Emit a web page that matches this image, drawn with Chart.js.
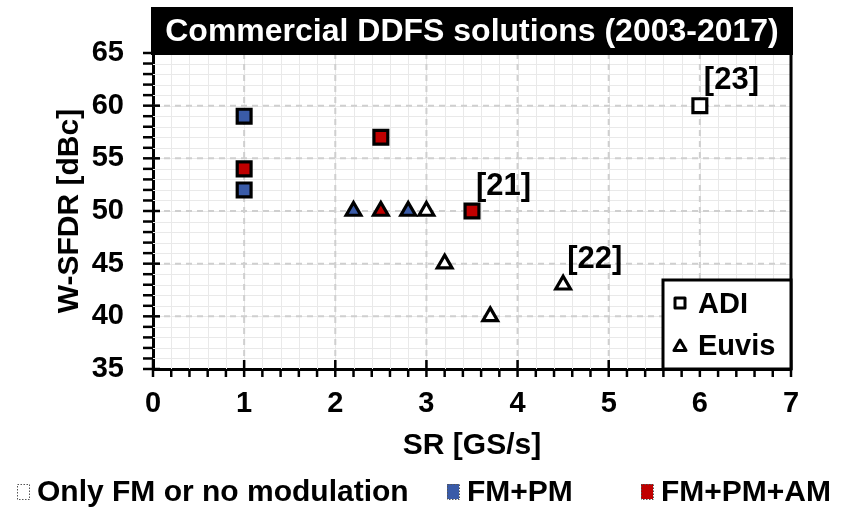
<!DOCTYPE html>
<html>
<head>
<meta charset="utf-8">
<script src="https://cdn.jsdelivr.net/npm/chart.js@4.4.0/dist/chart.umd.min.js"></script>
<style>
  html, body { margin: 0; padding: 0; background: #fff; }
</style>
</head>
<body>
<canvas id="chart" width="846" height="513"></canvas>
<script>
// ADI parts (squares)
const adiSR = [1, 1, 1, 2.5, 3.5, 6];
const adiSFDR = [59, 54, 52, 57, 50, 60];
const adiMod = ['pm', 'am', 'pm', 'am', 'am', 'none'];

// Euvis parts (triangles)
const euvisSR = [2.2, 2.5, 2.8, 3.0, 3.2, 3.7, 4.5];
const euvisSFDR = [50, 50, 50, 50, 45, 40, 43];
const euvisMod = ['pm', 'am', 'pm', 'none', 'none', 'none', 'none'];

// reference tags next to some points
const refTags = ['[21]', '[22]', '[23]'];
const refSR = [3.5, 4.5, 6];
const refSFDR = [50, 43, 60];

// modulation legend
const modKeys = ['none', 'pm', 'am'];
const modNames = ['Only FM or no modulation', 'FM+PM', 'FM+PM+AM'];

const xTicks = [0, 1, 2, 3, 4, 5, 6, 7];
const yTicks = [35, 40, 45, 50, 55, 60, 65];

const FONT = '"Liberation Sans", Arial, sans-serif';
const modColors = { none: '#ffffff', pm: '#3A5BA8', am: '#C00000' };

function drawMarker(ctx, style, x, y, r, fill, lw) {
  ctx.beginPath();
  if (style === 'rect') {
    ctx.rect(x - r, y - r, 2 * r, 2 * r);
  } else {
    ctx.moveTo(x, y - r);
    ctx.lineTo(x + r * 0.866, y + r * 0.5);
    ctx.lineTo(x - r * 0.866, y + r * 0.5);
    ctx.closePath();
  }
  ctx.fillStyle = fill;
  ctx.fill();
  ctx.lineWidth = lw;
  ctx.lineJoin = 'round';
  ctx.strokeStyle = '#000';
  ctx.stroke();
}

const decorations = {
  id: 'decorations',
  beforeDatasetsDraw(chart) {
    const { ctx, chartArea: a, scales: { x, y } } = chart;
    ctx.save();
    // light minor grid
    ctx.strokeStyle = '#e9e9e9';
    ctx.lineWidth = 1;
    for (let i = 1; i < 35; i++) {
      const px = Math.round(x.getPixelForValue(i * 0.2)) + 0.5;
      ctx.beginPath(); ctx.moveTo(px, a.top); ctx.lineTo(px, a.bottom); ctx.stroke();
    }
    for (let v = 36; v < 65; v++) {
      const py = Math.round(y.getPixelForValue(v)) + 0.5;
      ctx.beginPath(); ctx.moveTo(a.left, py); ctx.lineTo(a.right, py); ctx.stroke();
    }
    // dashed major grid
    ctx.strokeStyle = '#cfcfcf';
    ctx.lineWidth = 2;
    ctx.setLineDash([6, 5]);
    xTicks.slice(1, -1).forEach(v => {
      const px = x.getPixelForValue(v);
      ctx.beginPath(); ctx.moveTo(px, a.top); ctx.lineTo(px, a.bottom); ctx.stroke();
    });
    yTicks.slice(1, -1).forEach(v => {
      const py = y.getPixelForValue(v);
      ctx.beginPath(); ctx.moveTo(a.left, py); ctx.lineTo(a.right, py); ctx.stroke();
    });
    ctx.restore();
  },
  afterDraw(chart) {
    const { ctx, chartArea: a, scales: { x, y } } = chart;
    ctx.save();
    ctx.strokeStyle = '#000';
    ctx.lineWidth = 2.5;
    // x ticks
    for (let i = 0; i <= 35; i++) {
      const px = x.getPixelForValue(i * 0.2);
      const major = i % 5 === 0;
      ctx.beginPath();
      ctx.moveTo(px, a.bottom + 8);
      ctx.lineTo(px, major ? a.bottom - 9 : a.bottom);
      ctx.stroke();
    }
    // y ticks
    for (let v = 35; v <= 65; v++) {
      const py = y.getPixelForValue(v);
      const major = v % 5 === 0;
      ctx.beginPath();
      ctx.moveTo(a.left - 10, py);
      ctx.lineTo(major ? a.left + 7 : a.left, py);
      ctx.stroke();
    }
    // right border
    ctx.lineWidth = 3;
    ctx.beginPath(); ctx.moveTo(a.right, a.top); ctx.lineTo(a.right, a.bottom + 1); ctx.stroke();

    // title bar
    ctx.fillStyle = '#000';
    ctx.fillRect(a.left - 2, 7, a.right - a.left + 4, 48);
    ctx.fillStyle = '#fff';
    ctx.font = 'bold 32px ' + FONT;
    ctx.textAlign = 'center';
    ctx.textBaseline = 'middle';
    ctx.fillText('Commercial DDFS solutions (2003-2017)', (a.left + a.right) / 2, 32);

    // reference tags
    ctx.fillStyle = '#000';
    ctx.font = 'bold 31px ' + FONT;
    ctx.textAlign = 'left';
    refTags.forEach((t, i) => {
      ctx.fillText(t, x.getPixelForValue(refSR[i]) + 4, y.getPixelForValue(refSFDR[i]) - 25);
    });

    // vendor legend box
    const bx = 663, by = 280;
    ctx.fillStyle = '#fff';
    ctx.fillRect(bx, by, a.right - bx, a.bottom - by);
    ctx.lineWidth = 3;
    ctx.strokeRect(bx, by, a.right - bx, a.bottom - by);
    drawMarker(ctx, 'rect', 680, 303, 5, '#fff', 3);
    drawMarker(ctx, 'triangle', 680, 347, 7, '#fff', 3);
    ctx.fillStyle = '#000';
    ctx.font = 'bold 29px ' + FONT;
    ctx.fillText('ADI', 698, 305);
    ctx.fillText('Euvis', 698, 347);

    // modulation legend
    const lx = [17, 447, 641];
    ctx.font = 'bold 30px ' + FONT;
    modKeys.forEach((k, i) => {
      ctx.fillStyle = modColors[k];
      ctx.fillRect(lx[i], 484, 12, 15);
      ctx.setLineDash([1.5, 1.5]);
      ctx.lineWidth = 1;
      ctx.strokeStyle = '#555';
      ctx.strokeRect(lx[i] + 0.5, 484.5, 12, 15);
      ctx.setLineDash([]);
      ctx.fillStyle = '#000';
      ctx.fillText(modNames[i], lx[i] + 20, 493);
    });
    ctx.restore();
  }
};

new Chart(document.getElementById('chart'), {
  type: 'scatter',
  data: {
    datasets: [
      {
        label: 'ADI',
        data: adiSR.map((v, i) => ({ x: v, y: adiSFDR[i] })),
        pointStyle: 'rect',
        pointRadius: 9.8,
        pointHoverRadius: 9.8,
        backgroundColor: adiMod.map(m => modColors[m]),
        borderColor: '#000',
        borderWidth: 3.2,
        pointHoverBorderWidth: 3.2
      },
      {
        label: 'Euvis',
        data: euvisSR.map((v, i) => ({ x: v, y: euvisSFDR[i] })),
        pointStyle: 'triangle',
        pointRadius: 8.5,
        pointHoverRadius: 8.5,
        backgroundColor: euvisMod.map(m => modColors[m]),
        borderColor: '#000',
        borderWidth: 3.2,
        pointHoverBorderWidth: 3.2
      }
    ]
  },
  options: {
    responsive: false,
    animation: false,
    events: [],
    layout: { padding: { top: 53, right: 55, bottom: 48, left: 0 } },
    plugins: { legend: { display: false }, tooltip: { enabled: false } },
    scales: {
      x: {
        type: 'linear',
        min: 0, max: 7,
        afterFit(s) { s.height = 96; },
        afterBuildTicks(s) { s.ticks = xTicks.map(v => ({ value: v })); },
        grid: { display: false, drawTicks: false },
        border: { display: true, color: '#000', width: 3 },
        ticks: { color: '#000', padding: 18, font: { family: FONT, size: 29, weight: 'bold' } },
        title: {
          display: true, text: 'SR [GS/s]', color: '#000',
          padding: { top: 0, bottom: 1 },
          font: { family: FONT, size: 30, weight: 'bold' }
        }
      },
      y: {
        type: 'linear',
        min: 35, max: 65,
        afterFit(s) { s.width = 153; },
        afterBuildTicks(s) { s.ticks = yTicks.map(v => ({ value: v })); },
        grid: { display: false, drawTicks: false },
        border: { display: true, color: '#000', width: 3 },
        ticks: { color: '#000', padding: 29, font: { family: FONT, size: 29, weight: 'bold' } },
        title: {
          display: true, text: 'W-SFDR [dBc]', color: '#000',
          padding: { top: 52, bottom: 0 },
          font: { family: FONT, size: 30, weight: 'bold' }
        }
      }
    }
  },
  plugins: [decorations]
});
</script>
</body>
</html>
